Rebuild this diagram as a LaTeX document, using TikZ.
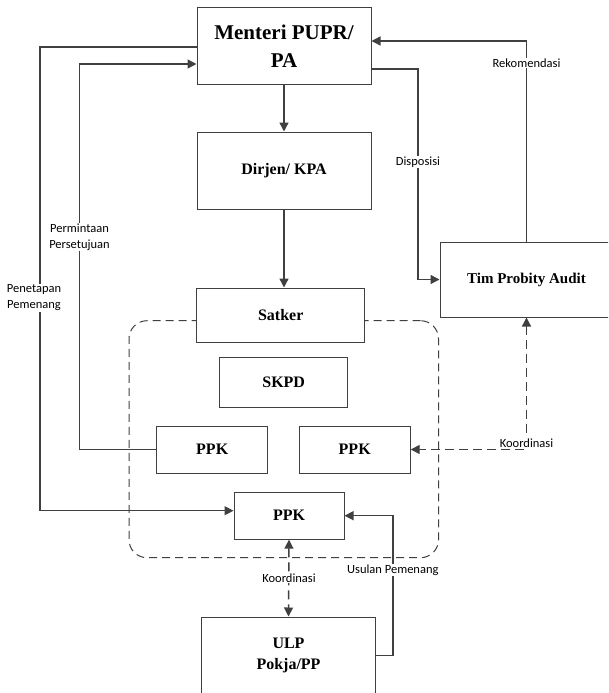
\documentclass[tikz,border=0pt]{standalone}
\usepackage{fontspec}
\setmainfont{Liberation Serif}
\newfontfamily\labelfont{Carlito}
\usetikzlibrary{arrows.meta}
\definecolor{linegray}{HTML}{404040}
\tikzset{
    >={Triangle[length=9pt,width=9pt]},
    flow/.style={draw=linegray,line width=1.4pt},
    coord/.style={flow,dashed,dash pattern=on 9pt off 5pt}
}

\begin{document}
\begin{tikzpicture}[x=1pt,y=-1pt,
                    box/.style={draw=linegray,fill=white,line width=1pt,inner sep=0pt,
                                align=center,font=\bfseries\fontsize{16}{20}\selectfont},
                    lbl/.style={fill=white,inner sep=1pt,align=center,
                                font=\labelfont\fontsize{12.5}{16}\selectfont},
                    group/.style={draw=linegray,line width=1pt,dashed,dash pattern=on 8pt off 5pt,
                                  rounded corners=18pt,minimum width=309.5pt,minimum height=237pt}]
\useasboundingbox (0,0) rectangle (608,693);
\clip (0,0) rectangle (608,693);

% Group frame
\node[group] (unit) at (283.75,439.2) {};

% Boxes
\node[box,minimum width=174pt,minimum height=76pt,font=\bfseries\fontsize{21}{28}\selectfont] (menteri) at (284,46) {Menteri PUPR/\\PA};
\node[box,minimum width=174pt,minimum height=77pt] (dirjen) at (284,170.5) {Dirjen/ KPA};
\node[box,minimum width=168pt,minimum height=54pt] (satker) at (280.7,315) {Satker};
\node[box,minimum width=127.5pt,minimum height=50.5pt] (skpd) at (283.7,382.5) {SKPD};
\node[box,minimum width=110.5pt,minimum height=47pt] (ppkA) at (212.2,449.5) {PPK};
\node[box,minimum width=111pt,minimum height=47pt] (ppkB) at (354.7,449.5) {PPK};
\node[box,minimum width=110pt,minimum height=47pt] (ppkC) at (289,515.7) {PPK};
\node[box,minimum width=173pt,minimum height=75pt,font=\bfseries\fontsize{15}{18}\selectfont] (tim) at (526.5,279.5) {Tim Probity Audit};
\node[box,minimum width=174pt,minimum height=77pt,font=\bfseries\fontsize{16}{20.5}\selectfont] (ulp) at (288.5,655.5) {ULP\\Pokja/PP};

% Bend points
\coordinate (dispoX) at (418,0);
\coordinate (permX) at (79.5,300);
\coordinate (penX) at (40,300);
\coordinate (usulX) at (392.8,600);

% Connectors
\draw[flow,->] (menteri.south) -- (dirjen.north);
\draw[flow,->] (dirjen.south) -- (dirjen.south |- satker.north);
\draw[flow,->] ([yshift=-23pt]menteri.east) -| (dispoX |- tim.west) -- (tim.west);
\draw[flow,->] (tim.north) |- ([yshift=5pt]menteri.east);
\draw[flow,->] (ppkA.west) -| (permX) |- ([yshift=-18pt]menteri.west);
\draw[flow,->] ([yshift=-1pt]menteri.west) -| (penX) |- ([yshift=5pt]ppkC.west);
\draw[coord,<->] (tim.south) |- (ppkB.east);
\draw[coord,<->] (ppkC.south) -- (ulp.north);
\draw[flow,->] (ulp.east) -| (usulX) |- (ppkC.east);

% Labels
\node[lbl] (ldispo) at (418,162) {Disposisi};
\node[lbl] (lrekom) at (526.5,63) {Rekomendasi};
\node[lbl] (lperm) at (79.5,237) {Permintaan\\Persetujuan};
\node[lbl] (lpen) at (34,298) {Penetapan\\Pemenang};
\node[lbl] (lkoorA) at (526.5,443) {Koordinasi};
\node[lbl] (lkoorB) at (289,578) {Koordinasi};
\node[lbl] (lusul) at (392.8,570) {Usulan Pemenang};

\end{tikzpicture}
\end{document}
